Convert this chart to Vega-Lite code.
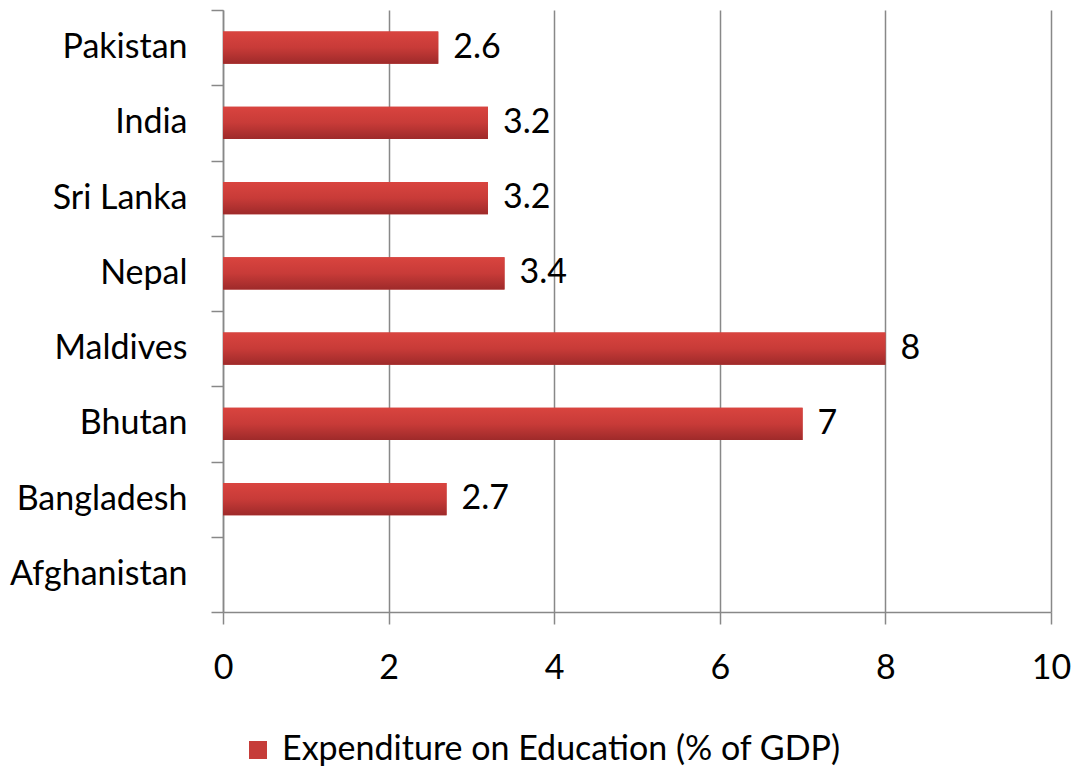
{
  "$schema": "https://vega.github.io/schema/vega-lite/v6.json",
  "width": 828,
  "height": 602,
  "autosize": {"type": "none"},
  "padding": {"left": 223, "top": 10, "right": 22, "bottom": 156},
  "background": "white",
  "config": {
    "view": {"stroke": null},
    "font": "Lato",
    "axis": {"labelFont": "Lato", "labelColor": "black", "labelFontSize": 34, "domainColor": "#888888", "tickColor": "#888888", "gridColor": "#888888", "domainWidth": 1.5, "tickWidth": 1.5, "gridWidth": 1.5}
  },
  "data": {
    "values": [
      {"country": "Pakistan", "value": 2.6, "series": "Expenditure on Education (% of GDP)"},
      {"country": "India", "value": 3.2, "series": "Expenditure on Education (% of GDP)"},
      {"country": "Sri Lanka", "value": 3.2, "series": "Expenditure on Education (% of GDP)"},
      {"country": "Nepal", "value": 3.4, "series": "Expenditure on Education (% of GDP)"},
      {"country": "Maldives", "value": 8, "series": "Expenditure on Education (% of GDP)"},
      {"country": "Bhutan", "value": 7, "series": "Expenditure on Education (% of GDP)"},
      {"country": "Bangladesh", "value": 2.7, "series": "Expenditure on Education (% of GDP)"},
      {"country": "Afghanistan", "value": null, "series": "Expenditure on Education (% of GDP)"}
    ]
  },
  "encoding": {
    "y": {
      "field": "country", "type": "nominal", "sort": null, "title": null,
      "scale": {"domain": ["Pakistan", "India", "Sri Lanka", "Nepal", "Maldives", "Bhutan", "Bangladesh", "Afghanistan"], "paddingInner": 0, "paddingOuter": 0},
      "axis": {"tickBand": "extent", "tickSize": 12, "labelPadding": 24, "grid": false}
    },
    "x": {
      "field": "value", "type": "quantitative", "title": null,
      "scale": {"domain": [0, 10], "nice": false},
      "axis": {"values": [0, 2, 4, 6, 8, 10], "tickSize": 12, "labelPadding": 27, "labelFlush": false, "labelOverlap": false, "grid": true}
    }
  },
  "layer": [
    {
      "mark": {"type": "bar", "height": {"band": 0.43}},
      "encoding": {
        "color": {
          "field": "series", "type": "nominal",
          "scale": {"range": ["#c63c39"]},
          "legend": {
            "title": null, "orient": "none", "legendX": 18, "legendY": 723,
            "symbolType": "square", "symbolSize": 324, "symbolStrokeWidth": 0, "symbolOpacity": 1,
            "labelFont": "Lato", "labelFontSize": 34, "labelColor": "black", "labelLimit": 800, "labelOffset": 7
          }
        }
      }
    },
    {
      "mark": {"type": "bar", "height": {"band": 0.43}, "color": {"gradient": "linear", "x1": 0, "y1": 0, "x2": 0, "y2": 1, "stops": [{"offset": 0, "color": "#d9443f"}, {"offset": 0.5, "color": "#c83b38"}, {"offset": 1, "color": "#9e2a2a"}]}}
    },
    {
      "transform": [{"filter": "isValid(datum.value)"}],
      "mark": {"type": "text", "align": "left", "baseline": "middle", "dx": 15, "fontSize": 34, "font": "Lato", "color": "black"},
      "encoding": {"text": {"field": "value", "type": "quantitative"}}
    }
  ]
}
